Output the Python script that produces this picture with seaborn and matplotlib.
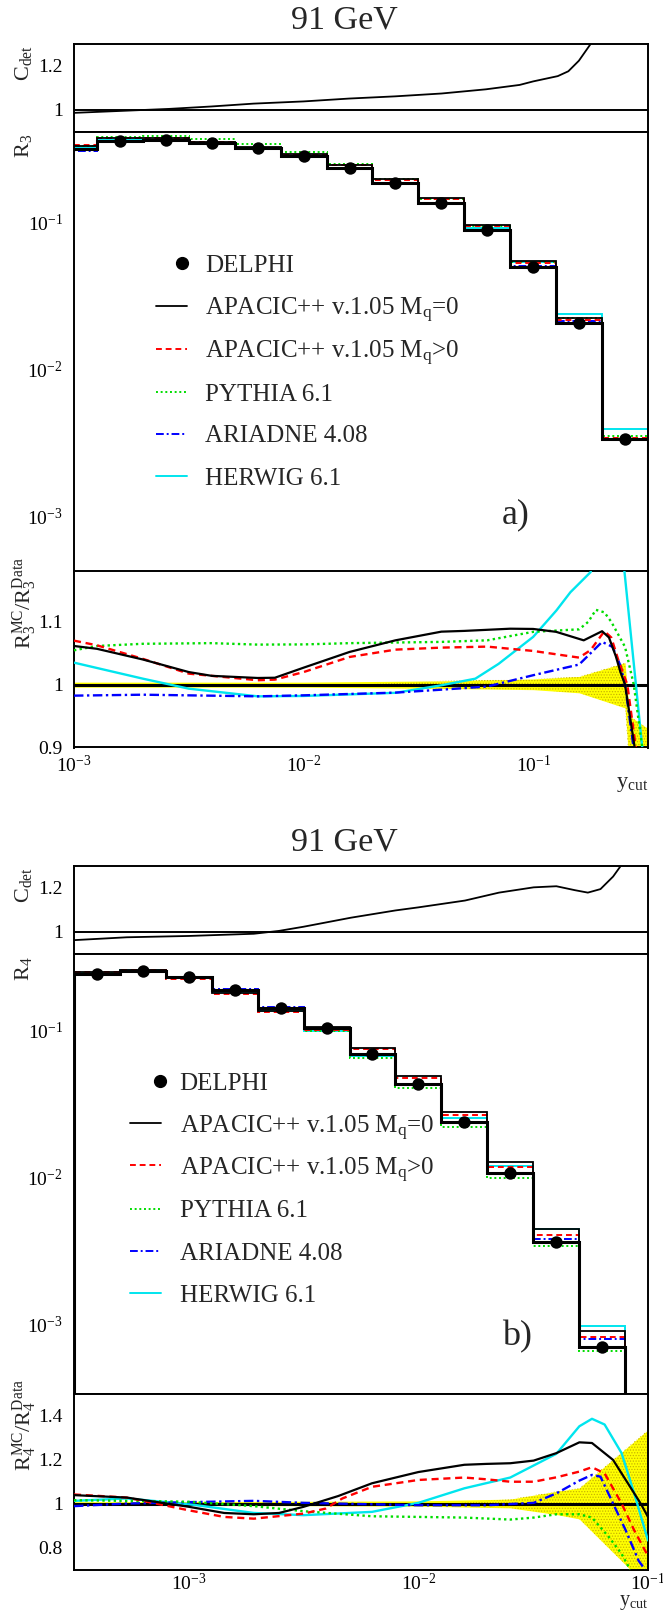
import numpy as np
import matplotlib
matplotlib.use("Agg")
import matplotlib.pyplot as plt
import seaborn as sns
from matplotlib.ticker import (FixedLocator, MultipleLocator, NullFormatter,
                               FuncFormatter, LogLocator, LogFormatterMathtext)

sns.set_theme(style="white")
plt.rcParams.update({
    "font.family": ["Liberation Serif", "DejaVu Serif"],
    "mathtext.fontset": "custom",
    "mathtext.rm": "Liberation Serif",
    "mathtext.it": "Liberation Serif:italic",
    "mathtext.bf": "Liberation Serif:bold",
    "mathtext.default": "regular",
    "axes.linewidth": 1.4,
    "axes.edgecolor": "black",
    "hatch.linewidth": 0.6,
})

# ------------------------------------------------------------------ data
# ---- panel a : R3 ----
edges_a_log = [-3.1, -2.9, -2.7, -2.5, -2.3, -2.1, -1.9, -1.7, -1.5, -1.3, -1.1, -0.9, -0.7, -0.5]
pts_a_log = [-2.8, -2.6, -2.4, -2.2, -2.0, -1.8, -1.6, -1.4, -1.2, -1.0, -0.8, -0.6]
r3_data = [0.359, 0.363, 0.349, 0.321, 0.283, 0.235, 0.186, 0.136, 0.0889, 0.050, 0.0207, 0.00333]
r3_data_hist = [0.314, 0.359, 0.363, 0.349, 0.321, 0.283, 0.235, 0.186, 0.136, 0.0889, 0.050, 0.0207, 0.00333]
r3_apa0 = [0.333, 0.377, 0.376, 0.354, 0.325, 0.291, 0.247, 0.199, 0.147, 0.0967, 0.0545, 0.0222, 0.00333]
r3_apam = [0.336, 0.378, 0.376, 0.355, 0.323, 0.289, 0.245, 0.196, 0.144, 0.0943, 0.0527, 0.0216, 0.00338]
r3_pyt = [0.331, 0.382, 0.387, 0.372, 0.342, 0.301, 0.251, 0.198, 0.145, 0.0951, 0.0542, 0.0225, 0.00353]
r3_ari = [0.309, 0.353, 0.357, 0.343, 0.315, 0.278, 0.231, 0.184, 0.135, 0.0887, 0.0508, 0.0214, 0.00335]
r3_her = [0.325, 0.367, 0.365, 0.346, 0.315, 0.278, 0.231, 0.184, 0.136, 0.0911, 0.0538, 0.0237, 0.00393]

cdet_a_x = [-3.0, -2.77, -2.586, -2.402, -2.218, -2.0, -1.802, -1.602, -1.399, -1.206, -1.059, -1.0, -0.893, -0.847, -0.801, -0.75]
cdet_a_y = [0.987, 0.997, 1.005, 1.016, 1.029, 1.039, 1.052, 1.062, 1.075, 1.094, 1.114, 1.130, 1.154, 1.176, 1.224, 1.30]

ra_apa0_x = [-3.0, -2.9, -2.7, -2.5, -2.4, -2.2, -2.125, -2.0, -1.8, -1.6, -1.4, -1.3, -1.1, -1.0, -0.9, -0.78, -0.7, -0.67, -0.64, -0.62, -0.60, -0.558, -0.54]
ra_apa0_y = [1.0615, 1.057, 1.040, 1.020, 1.014, 1.0106, 1.011, 1.027, 1.052, 1.0705, 1.0843, 1.0855, 1.089, 1.0886, 1.084, 1.0705, 1.085, 1.075, 1.045, 1.02, 1.0, 0.90, 0.86]
ra_apam_x = [-3.0, -2.9, -2.7, -2.5, -2.2, -2.125, -2.0, -1.8, -1.6, -1.4, -1.2, -1.0, -0.8, -0.75, -0.69, -0.66, -0.63, -0.59, -0.553, -0.53]
ra_apam_y = [1.070, 1.0626, 1.041, 1.0175, 1.007, 1.008, 1.020, 1.044, 1.0557, 1.0589, 1.0605, 1.0536, 1.043, 1.055, 1.085, 1.075, 1.04, 1.0, 0.90, 0.85]
ra_pyt_x = [-3.0, -2.9, -2.7, -2.4, -2.2, -2.0, -1.8, -1.4, -1.2, -1.0, -0.8, -0.76, -0.727, -0.69, -0.66, -0.6, -0.562, -0.525, -0.51]
ra_pyt_y = [1.0546, 1.0615, 1.065, 1.066, 1.0637, 1.064, 1.066, 1.068, 1.0705, 1.084, 1.088, 1.10, 1.119, 1.115, 1.10, 1.06, 1.0, 0.90, 0.85]
ra_ari_x = [-3.0, -2.7, -2.2, -2.0, -1.6, -1.4, -1.2, -1.0, -0.8, -0.7, -0.654, -0.62, -0.6, -0.563, -0.54]
ra_ari_y = [0.9825, 0.984, 0.9814, 0.983, 0.9873, 0.992, 0.997, 1.015, 1.032, 1.068, 1.06, 1.03, 1.0, 0.90, 0.85]
ra_her_x = [-3.0, -2.7, -2.5, -2.2, -2.0, -1.6, -1.4, -1.252, -1.151, -1.0, -0.899, -0.838, -0.75, -0.7, -0.66, -0.6025, -0.525, -0.5]
ra_her_y = [1.035, 1.0095, 0.9936, 0.9814, 0.982, 0.987, 0.999, 1.0095, 1.033, 1.076, 1.118, 1.147, 1.179, 1.25, 1.25, 1.18, 0.90, 0.80]

band_a_x = [-3.0, -2.0, -1.4, -1.0, -0.8, -0.6, -0.58, -0.5]
band_a_hi = [1.004, 1.004, 1.006, 1.009, 1.013, 1.035, 0.95, 0.93]
band_a_lo = [0.996, 0.996, 0.994, 0.992, 0.987, 0.963, 0.86, 0.86]

# ---- panel b : R4 ----
edges_b_log = [-3.5, -3.3, -3.1, -2.9, -2.7, -2.5, -2.3, -2.1, -1.9, -1.7, -1.5, -1.3, -1.1]
pts_b_log = [-3.4, -3.2, -3.0, -2.8, -2.6, -2.4, -2.2, -2.0, -1.8, -1.6, -1.4, -1.2]
r4_data = [0.2415, 0.251, 0.2285, 0.1876, 0.1416, 0.1028, 0.069, 0.0428, 0.0235, 0.0107, 0.00360, 0.000702]
r4_apa0 = [0.250, 0.258, 0.225, 0.179, 0.1357, 0.1043, 0.0753, 0.0489, 0.0276, 0.01266, 0.00442, 0.000895]
r4_apam = [0.250, 0.258, 0.2214, 0.1758, 0.1321, 0.1007, 0.0742, 0.0474, 0.0263, 0.01176, 0.00403, 0.000814]
r4_pyt = [0.2449, 0.254, 0.2303, 0.1857, 0.1388, 0.0992, 0.0650, 0.0402, 0.0220, 0.00992, 0.00342, 0.000653]
r4_ari = [0.2398, 0.251, 0.2299, 0.1897, 0.1427, 0.1028, 0.0687, 0.0425, 0.0233, 0.01063, 0.00377, 0.000793]
r4_her = [0.2454, 0.2568, 0.2278, 0.1801, 0.1345, 0.0979, 0.0664, 0.0429, 0.0251, 0.01196, 0.00441, 0.000972]

cdet_b_x = [-3.5, -3.27, -3.0, -2.717, -2.607, -2.5, -2.294, -2.1, -2.0, -1.797, -1.649, -1.498, -1.399, -1.318, -1.262, -1.207, -1.152, -1.119]
cdet_b_y = [0.963, 0.976, 0.982, 0.992, 1.005, 1.024, 1.065, 1.098, 1.112, 1.143, 1.179, 1.203, 1.208, 1.19, 1.179, 1.195, 1.252, 1.30]

rb_apa0_x = [-3.5, -3.27, -3.0, -2.846, -2.717, -2.607, -2.5, -2.349, -2.202, -2.0, -1.8, -1.704, -1.6, -1.498, -1.399, -1.299, -1.244, -1.152, -1.078, -1.032, -1.0]
rb_apa0_y = [1.038, 1.027, 0.985, 0.957, 0.951, 0.957, 0.985, 1.034, 1.092, 1.143, 1.176, 1.18, 1.183, 1.195, 1.229, 1.278, 1.275, 1.198, 1.076, 1.0, 0.939]
rb_apam_x = [-3.5, -3.27, -3.0, -2.846, -2.717, -2.5, -2.404, -2.331, -2.202, -2.0, -1.8, -1.704, -1.6, -1.498, -1.399, -1.299, -1.244, -1.189, -1.115, -1.06, -1.005]
rb_apam_y = [1.041, 1.027, 0.969, 0.939, 0.931, 0.954, 0.977, 1.023, 1.076, 1.107, 1.118, 1.11, 1.099, 1.099, 1.119, 1.145, 1.165, 1.137, 1.0, 0.878, 0.771]
rb_pyt_x = [-3.5, -3.27, -3.0, -2.717, -2.5, -2.202, -2.0, -1.8, -1.6, -1.498, -1.399, -1.299, -1.244, -1.17, -1.115, -1.078]
rb_pyt_y = [1.015, 1.012, 1.008, 0.988, 0.965, 0.942, 0.939, 0.936, 0.927, 0.936, 0.951, 0.951, 0.936, 0.847, 0.771, 0.70]
rb_ari_x = [-3.5, -3.27, -3.0, -2.717, -2.5, -2.0, -1.704, -1.498, -1.399, -1.299, -1.244, -1.207, -1.152, -1.097, -1.041, -1.013]
rb_ari_y = [0.988, 1.0, 1.006, 1.012, 1.003, 0.992, 0.992, 1.003, 1.046, 1.104, 1.130, 1.122, 1.0, 0.878, 0.74, 0.70]
rb_her_x = [-3.5, -3.27, -3.0, -2.717, -2.5, -2.202, -2.0, -1.8, -1.6, -1.399, -1.299, -1.244, -1.189, -1.115, -1.06, -1.0]
rb_her_y = [1.012, 1.023, 0.997, 0.957, 0.947, 0.962, 1.003, 1.069, 1.118, 1.226, 1.351, 1.385, 1.359, 1.229, 1.046, 0.832]

band_b_x = [-3.5, -2.5, -2.0, -1.6, -1.4, -1.3, -1.0]
band_b_hi = [1.008, 1.01, 1.012, 1.02, 1.055, 1.07, 1.335]
band_b_lo = [0.992, 0.99, 0.988, 0.98, 0.95, 0.93, 0.62]

labels = ["DELPHI", "APACIC++ v.1.05 M$_q$=0", "APACIC++ v.1.05 M$_q$>0",
          "PYTHIA 6.1", "ARIADNE 4.08", "HERWIG 6.1"]

# ------------------------------------------------------------------ styles
STY = {
    "apa0": dict(color="black", ls="-", lw=1.3),
    "apam": dict(color="#ff0000", ls=(0, (3, 2)), lw=1.4),
    "pyt": dict(color="#00dd00", ls=(0, (1, 1.4)), lw=1.4),
    "ari": dict(color="#0000ff", ls=(0, (4, 1.5, 1, 1.5)), lw=1.4),
    "her": dict(color="#00e5ee", ls="-", lw=1.4),
}
ORDER = ["her", "ari", "pyt", "apam", "apa0"]

W_PX, H_PX = 663, 1612
fig = plt.figure(figsize=(W_PX / 100, H_PX / 100), dpi=100)
L_PX, R_PX = 74, 648


def add_ax(top, bot):
    return fig.add_axes([L_PX / W_PX, 1 - bot / H_PX, (R_PX - L_PX) / W_PX, (bot - top) / H_PX])


def tick_style(ax, xpad=5):
    ax.tick_params(axis="both", which="both", direction="in", top=False, right=False,
                   labelsize=14, colors="black")
    ax.tick_params(axis="x", which="major", length=6.8, width=1.0, pad=xpad)
    ax.tick_params(axis="x", which="minor", length=3.6, width=0.9)
    ax.tick_params(axis="y", which="major", length=6.5, width=1.0, pad=8)
    ax.tick_params(axis="y", which="minor", length=3.6, width=0.9)
    for s in ax.spines.values():
        s.set_linewidth(1.4)
        s.set_color("black")


def setup_x(ax, xlim, labels_on):
    ax.set_xscale("log")
    ax.set_xlim(*xlim)
    ax.xaxis.set_major_locator(LogLocator(base=10))
    ax.xaxis.set_minor_locator(LogLocator(base=10, subs=np.arange(2, 10)))
    ax.xaxis.set_minor_formatter(NullFormatter())
    if labels_on:
        ax.xaxis.set_major_formatter(LogFormatterMathtext())
    else:
        ax.xaxis.set_major_formatter(NullFormatter())


gfmt = FuncFormatter(lambda v, p: f"{v:g}")


def draw_group(off, xlim, edges_log, pts_log, data, data_hist, mc, cdx, cdy,
               rc, band, ylim_r, ylim_ratio, rmaj, rmin, hatch_from, rlab, ratlab,
               tag, leg_pos, title_y, ycut_off, xpad, ycut_fs):
    # title
    fig.text(344 / W_PX, 1 - title_y / H_PX, "91 GeV", ha="center", va="center", fontsize=24.5)

    # --- C_det
    ax0 = add_ax(44 + off, 132 + off)
    sns.lineplot(x=np.power(10.0, cdx), y=cdy, ax=ax0, color="black", lw=1.3)
    ax0.axhline(1.0, color="black", lw=1.4)
    setup_x(ax0, xlim, False)
    ax0.set_ylim(0.9, 1.3)
    ax0.yaxis.set_major_locator(FixedLocator([1.0, 1.2]))
    ax0.yaxis.set_minor_locator(MultipleLocator(0.05))
    ax0.yaxis.set_major_formatter(gfmt)
    tick_style(ax0)
    fig.text(24 / W_PX, 1 - (45 + off) / H_PX, "C$_{det}$", rotation=90, ha="center", va="top", fontsize=16)

    # --- R histogram panel
    ax1 = add_ax(132 + off, 571.5 + off)
    edges = np.power(10.0, edges_log)
    for key in ORDER:
        st = STY[key]
        ax1.stairs(mc[key], edges, baseline=1e-7, color=st["color"], ls=st["ls"], lw=st["lw"])
    ax1.stairs(data_hist, edges, baseline=1e-7, color="black", lw=2.2)
    sns.scatterplot(x=np.power(10.0, pts_log), y=data, ax=ax1, color="black", s=80,
                    edgecolor="black", linewidth=0, zorder=10)
    setup_x(ax1, xlim, False)
    ax1.set_yscale("log")
    ax1.set_ylim(*ylim_r)
    ax1.yaxis.set_major_locator(LogLocator(base=10))
    ax1.yaxis.set_minor_locator(LogLocator(base=10, subs=np.arange(2, 10)))
    ax1.yaxis.set_major_formatter(LogFormatterMathtext())
    ax1.yaxis.set_minor_formatter(NullFormatter())
    tick_style(ax1)
    fig.text(24 / W_PX, 1 - (134 + off) / H_PX, rlab, rotation=90, ha="center", va="top", fontsize=16)
    ax1.text(0.746, 0.13, tag, transform=ax1.transAxes, fontsize=26, ha="left", va="center")

    # legend (manual, as in ROOT TLegend)
    mx, tx, lx0, lx1, ys = leg_pos
    ax1.plot([mx], [ys[0]], "o", color="black", ms=8.5, transform=ax1.transAxes, clip_on=False)
    ax1.text(tx, ys[0], labels[0], transform=ax1.transAxes, fontsize=18, va="center_baseline")
    for key, lab, yy in zip(["apa0", "apam", "pyt", "ari", "her"], labels[1:], ys[1:]):
        st = STY[key]
        ax1.plot([lx0, lx1], [yy, yy], color=st["color"], ls=st["ls"], lw=st["lw"],
                 transform=ax1.transAxes, clip_on=False)
        ax1.text(tx, yy, lab, transform=ax1.transAxes, fontsize=18, va="center_baseline")

    # --- ratio panel
    ax2 = add_ax(571.5 + off, 747.5 + off)
    bx = np.power(10.0, band[0])
    blo = np.array(band[2])
    bhi = np.array(band[1])
    ax2.fill_between(bx, blo, bhi, color="#ffff00", lw=0, zorder=1)
    ax2.fill_between(bx, blo, bhi, where=np.array(band[0]) >= hatch_from, interpolate=True,
                     facecolor="none", edgecolor="#c8b400", hatch="......", lw=0, zorder=1.1)
    ax2.axhline(1.0, color="black", lw=2.2, zorder=2)
    for key in ORDER:
        st = STY[key]
        xs, ys_ = rc[key]
        sns.lineplot(x=np.power(10.0, xs), y=ys_, ax=ax2, color=st["color"], ls=st["ls"],
                     lw=st["lw"] + 0.3, zorder=3)
    setup_x(ax2, xlim, True)
    ax2.set_ylim(*ylim_ratio)
    ax2.yaxis.set_major_locator(MultipleLocator(rmaj))
    ax2.yaxis.set_minor_locator(MultipleLocator(rmin))
    ax2.yaxis.set_major_formatter(gfmt)
    tick_style(ax2, xpad=xpad)
    fig.text(25 / W_PX, 1 - (557 + off) / H_PX, ratlab, rotation=90, ha="center", va="top", fontsize=16)
    ax2.annotate("y$_{cut}$", xy=(1.0, 0.0), xycoords="axes fraction", xytext=(0, -ycut_off / 1.389),
                 textcoords="offset points", ha="right", va="center", fontsize=ycut_fs)
    for a in (ax0, ax1, ax2):
        a.set_xlabel("")
        a.set_ylabel("")


mc_a = {"apa0": r3_apa0, "apam": r3_apam, "pyt": r3_pyt, "ari": r3_ari, "her": r3_her}
rc_a = {"apa0": (ra_apa0_x, ra_apa0_y), "apam": (ra_apam_x, ra_apam_y), "pyt": (ra_pyt_x, ra_pyt_y),
        "ari": (ra_ari_x, ra_ari_y), "her": (ra_her_x, ra_her_y)}
draw_group(0, (1e-3, 10 ** -0.5), edges_a_log, pts_a_log, r3_data, r3_data_hist, mc_a,
           cdet_a_x, cdet_a_y, rc_a, (band_a_x, band_a_hi, band_a_lo),
           (4.2e-4, 0.413), (0.9, 1.18), 0.1, 0.02, -1.4,
           "R$_3$", "R$_3^{MC}$/R$_3^{Data}$", "a)",
           (0.189, 0.2285, 0.142, 0.196, [0.701, 0.605, 0.506, 0.408, 0.313, 0.217]), 20, 37, 5, 16)

mc_b = {"apa0": r4_apa0, "apam": r4_apam, "pyt": r4_pyt, "ari": r4_ari, "her": r4_her}
rc_b = {"apa0": (rb_apa0_x, rb_apa0_y), "apam": (rb_apam_x, rb_apam_y), "pyt": (rb_pyt_x, rb_pyt_y),
        "ari": (rb_ari_x, rb_ari_y), "her": (rb_her_x, rb_her_y)}
draw_group(822, (10 ** -3.5, 0.1), edges_b_log, pts_b_log, r4_data, r4_data, mc_b,
           cdet_b_x, cdet_b_y, rc_b, (band_b_x, band_b_hi, band_b_lo),
           (3.37e-4, 0.329), (0.7, 1.5), 0.2, 0.05, -1.8,
           "R$_4$", "R$_4^{MC}$/R$_4^{Data}$", "b)",
           (0.149, 0.184, 0.097, 0.151, [0.711, 0.615, 0.519, 0.420, 0.324, 0.228]), 842, 33.5, 2.5, 14.5)

fig.savefig("out.png", dpi=100)
